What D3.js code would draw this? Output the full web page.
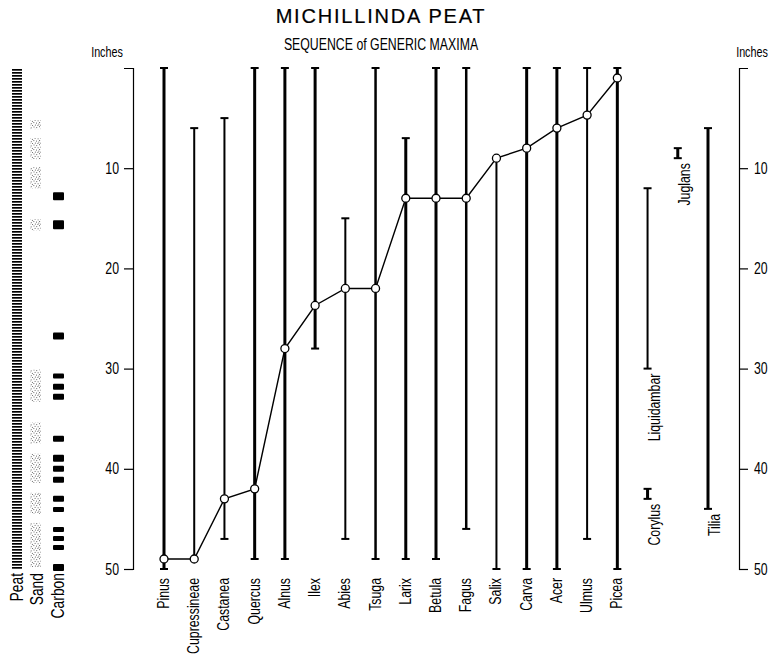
<!DOCTYPE html>
<html>
<head>
<meta charset="utf-8">
<script src="https://cdn.jsdelivr.net/npm/d3@7"></script>
<style>
  html, body { margin: 0; padding: 0; background: #fff; }
  svg { display: block; }
  .cond { font-family: "Liberation Sans", Arial, Helvetica, sans-serif; }
</style>
</head>
<body>
<svg id="chart" width="780" height="656"></svg>
<script>
// Genera in the order of their pollen maximum (deepest first), depths in inches
const genera = ["Pinus", "Cupressineae", "Castanea", "Quercus", "Alnus", "Ilex", "Abies", "Tsuga",
                "Larix", "Betula", "Fagus", "Salix", "Carva", "Acer", "Ulmus", "Picea"];
const rangeTop    = [0, 6, 5, 0, 0, 0, 15, 0, 7, 0, 0, 9, 0, 0, 0, 0];
const rangeBottom = [50, 49, 47, 49, 49, 28, 47, 49, 49, 49, 46, 50, 50, 50, 47, 50];
const maximumDepth = [49, 49, 43, 42, 28, 23.7, 22, 22, 13, 13, 13, 9, 8, 6, 4.7, 1];

// Genera recorded without a plotted maximum
const minorGenera = ["Liquidambar", "Corylus", "Juglans", "Tilia"];
const minorTop    = [12, 42, 8, 6];
const minorBottom = [30, 43, 9, 44];

// Sediment column
const peatTop = 0, peatBottom = 50;
const sandTop    = [5.2, 7.0, 9.9, 15.1, 30.1, 35.4, 38.5, 42.4, 45.4];
const sandBottom = [6.1, 9.1, 12.0, 16.2, 33.3, 37.5, 41.4, 44.5, 49.8];
const carbonTop    = [12.4, 15.2, 26.4, 30.5, 31.5, 32.5, 36.7, 38.6, 39.7, 40.8, 42.7, 43.8, 45.8, 46.7, 47.6, 49.5];
const carbonBottom = [13.2, 16.1, 27.1, 31.0, 32.1, 33.1, 37.3, 39.3, 40.3, 41.4, 43.3, 44.3, 46.3, 47.2, 48.1, 50.2];
const columnLabels = ["Peat", "Sand", "Carbon"];

const depthTicks = [10, 20, 30, 40, 50];
const depthUnit = "Inches";
const titleText = "MICHILLINDA PEAT";
const subtitleText = "SEQUENCE of GENERIC MAXIMA";

// ---------------------------------------------------------------------------
const svg = d3.select("#chart");
const y = d3.scaleLinear().domain([0, 50]).range([68, 569]);

// one slot per column; Corylus shares the Liquidambar column
const slots = genera.concat(["Liquidambar", "Juglans", "Tilia"]);
const x = d3.scalePoint().domain(slots).range([164, 708]);
const slotOf = g => (g === "Corylus" ? "Liquidambar" : g);

// narrow lettering: squeeze glyphs along the writing direction
const NARROW = 0.77;

// line weights of the range bars
const heavy = new Set(["Pinus", "Quercus", "Alnus", "Ilex", "Larix", "Betula", "Carva", "Acer",
                       "Picea", "Tilia", "Juglans", "Corylus"]);
const medium = new Set(["Tsuga", "Fagus"]);
const weight = g => (heavy.has(g) ? 3 : medium.has(g) ? 2.5 : 2);
const capHalf = 4;

// titles
svg.append("text")
  .attr("x", 381).attr("y", 23)
  .attr("text-anchor", "middle")
  .attr("font-family", "'Liberation Sans', Arial, sans-serif")
  .attr("font-size", 20).attr("letter-spacing", 1.8)
  .attr("stroke", "#000").attr("stroke-width", 0.2)
  .text(titleText);
svg.append("text").attr("class", "cond")
  .attr("transform", `translate(381,50) scale(${NARROW},1)`)
  .attr("text-anchor", "middle")
  .attr("font-size", 16)
  .text(subtitleText);

// depth axes
function styleAxis(g) {
  g.attr("font-family", null).attr("font-size", null);
  g.select(".domain").attr("stroke", "#000").attr("stroke-width", 1.2);
  g.selectAll(".tick line").attr("stroke", "#000").attr("stroke-width", 1.2);
  g.selectAll(".tick text").each(function () {
    const t = d3.select(this);
    const tx = +t.attr("x");
    t.attr("x", 0)
      .attr("transform", `translate(${tx},0) scale(${NARROW},1)`)
      .attr("class", "cond").attr("font-size", 16).attr("fill", "#000");
  });
}
svg.append("g").attr("transform", "translate(133,0)")
  .call(d3.axisLeft(y).tickValues(depthTicks).tickSize(9).tickSizeOuter(9).tickPadding(5).tickFormat(d3.format("d")))
  .call(styleAxis);
svg.append("g").attr("transform", "translate(739,0)")
  .call(d3.axisRight(y).tickValues(depthTicks).tickSize(9).tickSizeOuter(9).tickPadding(6).tickFormat(d3.format("d")))
  .call(styleAxis);

[107, 752].forEach(ux => svg.append("text").attr("class", "cond")
  .attr("transform", `translate(${ux},57) scale(${NARROW},1)`)
  .attr("text-anchor", "middle").attr("font-size", 14).text(depthUnit));

// range bars
const bars = genera.map((g, i) => ({ g, top: rangeTop[i], bottom: rangeBottom[i], max: maximumDepth[i] }));
const minor = minorGenera.map((g, i) => ({ g, top: minorTop[i], bottom: minorBottom[i], max: null }));
const allBars = bars.concat(minor);

const barG = svg.append("g").attr("stroke", "#000");
allBars.forEach(d => {
  const cx = x(slotOf(d.g));
  barG.append("line")
    .attr("x1", cx).attr("x2", cx)
    .attr("y1", y(d.top)).attr("y2", y(d.bottom))
    .attr("stroke-width", weight(d.g));
  [d.top, d.bottom].forEach(v => {
    if (v === d.max) return;
    barG.append("line")
      .attr("x1", cx - capHalf).attr("x2", cx + capHalf)
      .attr("y1", y(v)).attr("y2", y(v))
      .attr("stroke-width", 2);
  });
});

// sequence of maxima
svg.append("path")
  .datum(bars)
  .attr("fill", "none").attr("stroke", "#000").attr("stroke-width", 1.4)
  .attr("d", d3.line().x(d => x(d.g)).y(d => y(d.max)));
svg.append("g").selectAll("circle").data(bars).join("circle")
  .attr("cx", d => x(d.g)).attr("cy", d => y(d.max)).attr("r", 4)
  .attr("fill", "#fff").attr("stroke", "#000").attr("stroke-width", 1.3);

// genus labels, read upward
svg.append("g").attr("class", "cond").attr("font-size", 16)
  .selectAll("text").data(bars).join("text")
  .attr("transform", d => `translate(${x(d.g) + 5},${y(50) + 9}) rotate(-90) scale(${NARROW},1)`)
  .attr("text-anchor", "end")
  .text(d => d.g);
svg.append("g").attr("class", "cond").attr("font-size", 16)
  .selectAll("text").data(minor).join("text")
  .attr("transform", d => `translate(${x(slotOf(d.g)) + 12},${y(d.bottom) + 5}) rotate(-90) scale(${NARROW},1)`)
  .attr("text-anchor", "end")
  .text(d => d.g);

// sediment column
const defs = svg.append("defs");
const hatch = defs.append("pattern").attr("id", "peat").attr("patternUnits", "userSpaceOnUse")
  .attr("width", 10).attr("height", 3);
hatch.append("rect").attr("x", 0).attr("y", 0).attr("width", 10).attr("height", 1.7).attr("fill", "#000");

const stipple = defs.append("pattern").attr("id", "sand").attr("patternUnits", "userSpaceOnUse")
  .attr("width", 11).attr("height", 9);
[[0.5,0.5],[3.2,1.1],[6,0.2],[8.7,1.4],[1.6,2.9],[4.6,3.3],[7.4,2.7],[9.9,3.9],[0.3,5.1],[3,5.6],
 [6.1,5.0],[8.8,6.2],[1.9,7.6],[4.4,7.9],[7.3,7.7],[10,8.1],[5.3,6.6]]
  .forEach(([px, py]) => stipple.append("rect").attr("x", px).attr("y", py)
    .attr("width", 1).attr("height", 1).attr("fill", "#666"));

const colG = svg.append("g");
colG.append("rect")
  .attr("x", 12).attr("width", 10)
  .attr("y", y(peatTop)).attr("height", y(peatBottom) - y(peatTop))
  .attr("fill", "url(#peat)");
colG.selectAll(".sand").data(sandTop.map((t, i) => [t, sandBottom[i]])).join("rect")
  .attr("class", "sand")
  .attr("x", 30).attr("width", 11)
  .attr("y", d => y(d[0])).attr("height", d => y(d[1]) - y(d[0]))
  .attr("fill", "url(#sand)");
colG.selectAll(".carbon").data(carbonTop.map((t, i) => [t, carbonBottom[i]])).join("rect")
  .attr("class", "carbon")
  .attr("x", 53).attr("width", 11).attr("rx", 1)
  .attr("y", d => y(d[0])).attr("height", d => y(d[1]) - y(d[0]))
  .attr("fill", "#000");

const labelX = [23, 43, 64];
svg.append("g").attr("class", "cond").attr("font-size", 18)
  .selectAll("text").data(columnLabels).join("text")
  .attr("transform", (d, i) => `translate(${labelX[i]},${y(50) + 4}) rotate(-90) scale(${NARROW},1)`)
  .attr("text-anchor", "end")
  .text(d => d);
</script>
</body>
</html>
